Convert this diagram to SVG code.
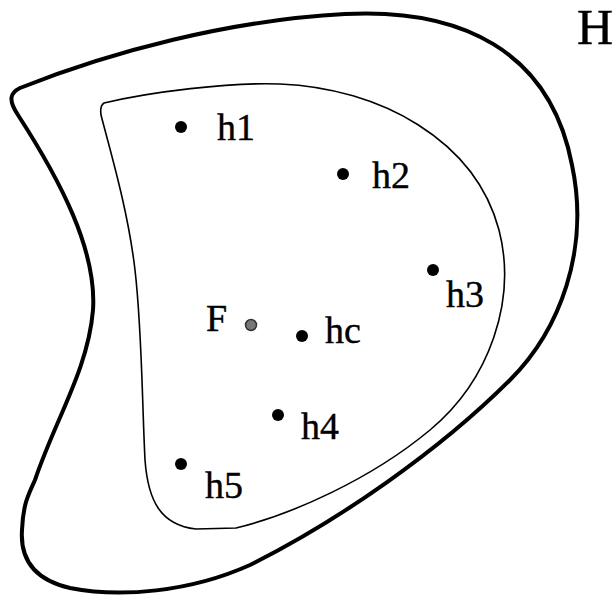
<svg xmlns="http://www.w3.org/2000/svg" width="616" height="596" viewBox="0 0 616 596">
<style>
.outer{fill:none;stroke:#000;stroke-width:4;stroke-linejoin:round}
.inner{fill:none;stroke:#000;stroke-width:1.6}
.dot{fill:#000}
.fdot{fill:#777;stroke:#333;stroke-width:1.5}
text{font-family:"Liberation Serif","Times New Roman",serif;font-size:38px;fill:#000;stroke:#000;stroke-width:0.4}
</style>
<rect width="616" height="596" fill="#fff"/>
<g id="regionH">
<path class="outer" d="M 20,88 C 110,52 230,20 345,14 C 460,8 550,50 572,165 C 590,250 560,330 510,380 C 440,450 340,520 250,565 C 190,592 120,598 70,588 C 35,580 20,560 22,530 C 23,505 28,495 35,480 C 55,420 88,370 93,310 C 97,250 60,180 18,115 C 8,100 10,93 20,88 Z"/>
<text x="577" y="44" style="font-size:50px">H</text>
</g>
<g id="regionF">
<path class="inner" d="M 104,103 C 150,92 230,82 280,84 C 380,88 475,140 499,230 C 517,300 490,380 430,430 C 370,480 290,515 236,528 L 196,529 C 160,525 148,500 145,460 C 142,400 142,330 135,270 C 128,210 110,150 101,115 C 100,108 101,105 104,103 Z"/>
</g>
<g id="h1"><circle class="dot" cx="181" cy="127" r="6"/><text x="217" y="140">h1</text></g>
<g id="h2"><circle class="dot" cx="343" cy="174" r="6"/><text x="372" y="188">h2</text></g>
<g id="h3"><circle class="dot" cx="433" cy="270" r="6"/><text x="446" y="307">h3</text></g>
<g id="F"><circle class="fdot" cx="251" cy="325" r="5.5"/><text x="206" y="331">F</text></g>
<g id="hc"><circle class="dot" cx="302" cy="336" r="6"/><text x="325" y="343">hc</text></g>
<g id="h4"><circle class="dot" cx="278" cy="415" r="6"/><text x="301" y="439">h4</text></g>
<g id="h5"><circle class="dot" cx="181" cy="464" r="6"/><text x="205" y="498">h5</text></g>
</svg>
